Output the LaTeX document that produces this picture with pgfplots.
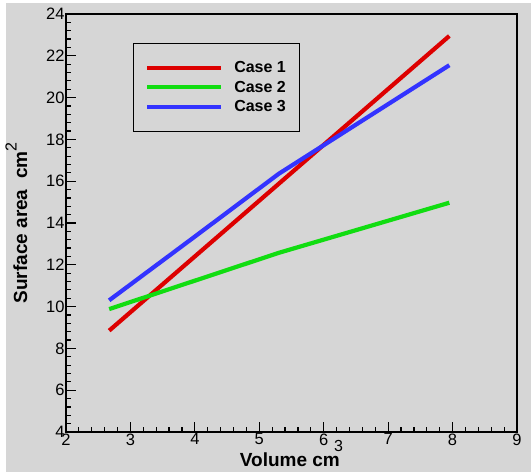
\documentclass[border=0pt]{standalone}
\usepackage{pgfplots}
\pgfplotsset{compat=1.18}
\usepackage{fontspec}
\setmainfont{Liberation Sans}
\definecolor{bg}{HTML}{D6D6D6}
\definecolor{cred}{HTML}{DD0000}
\definecolor{cgreen}{HTML}{11DD11}
\definecolor{cblue}{HTML}{3333FF}
\begin{document}
\begin{tikzpicture}[x=1pt,y=1pt]
\useasboundingbox (0,0) rectangle (531,472);
\fill[white] (0,0) rectangle (531,472);
\fill[bg] (6,0) rectangle (531,469);
\begin{axis}[
  at={(66pt,40pt)}, anchor=south west,
  width=451pt, height=418pt, scale only axis,
  xmin=2, xmax=9, ymin=4, ymax=24,
  xtick={2,...,9}, ytick={4,6,...,24},
  minor x tick num=4, minor y tick num=4,
  tick align=inside,
  xtick pos=bottom, ytick pos=left,
  major tick length=10pt, minor tick length=5pt,
  every tick/.style={black, line width=1.2pt},
  axis line style={line width=2pt},
  /pgf/number format/assume math mode=true,
  tick label style={font=\fontsize{16.5}{16.5}\selectfont},
  xticklabel style={yshift=2pt},
  yticklabel style={xshift=2pt},
  xlabel={\fontsize{19}{19}\selectfont\bfseries Volume cm\kern-0.3em\raisebox{0.8em}{\fontsize{16}{16}\selectfont\mdseries 3}},
  ylabel={\fontsize{19}{19}\selectfont\bfseries Surface area\ \ cm\raisebox{0.55em}{\fontsize{16}{16}\selectfont\mdseries 2}},
  xlabel style={yshift=12pt},
  ylabel style={yshift=12pt},
  legend style={at={(67pt,389pt)}, anchor=north west, draw=black, fill=bg,
    font=\fontsize{16}{18}\selectfont\bfseries, row sep=3pt,
    inner xsep=12pt, inner ysep=16pt, line width=0.8pt},
  legend cell align=left,
  legend image code/.code={\draw[#1, line width=4pt] (0pt,0pt) -- (74pt,0pt);},
  every axis plot/.append style={line width=4.2pt},
]
\addplot[cred] coordinates {(2.67,8.85) (5.30,15.87) (7.95,22.95)};
\addlegendentry{\ \ Case 1}
\addplot[cgreen] coordinates {(2.67,9.88) (5.30,12.57) (7.95,14.97)};
\addlegendentry{\ \ Case 2}
\addplot[cblue] coordinates {(2.67,10.30) (4.0,13.35) (5.30,16.35) (7.95,21.55)};
\addlegendentry{\ \ Case 3}
\end{axis}
\end{tikzpicture}
\end{document}
